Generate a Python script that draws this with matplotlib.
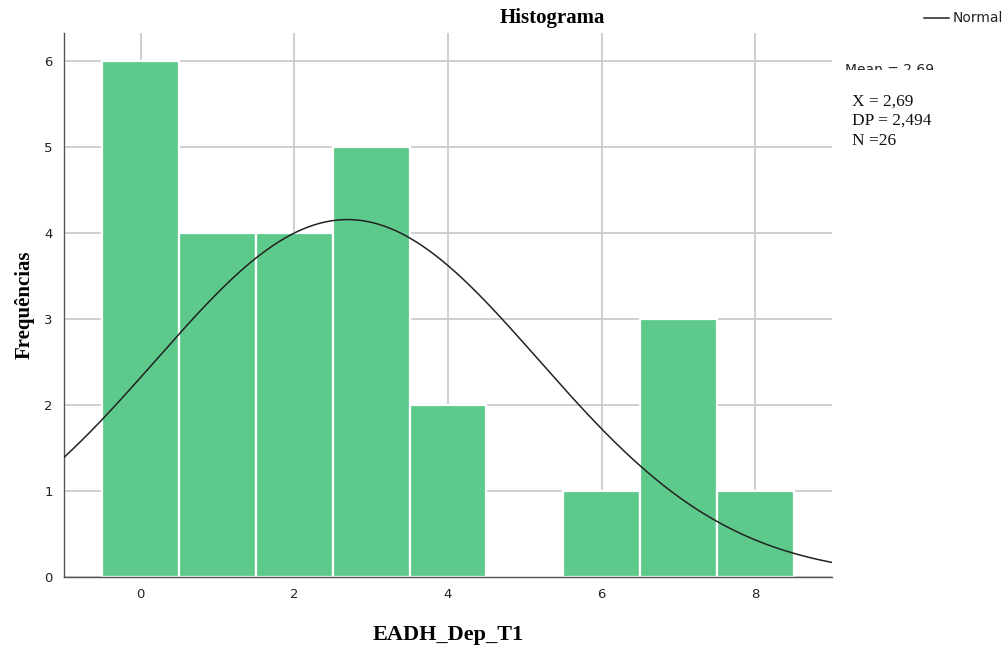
import numpy as np
import matplotlib
matplotlib.use("Agg")
import matplotlib.pyplot as plt
from matplotlib.patches import Rectangle

# Histogram bins (value -> frequency), EADH_Dep_T1, N = 26
BIN_CENTERS = [0, 1, 2, 3, 4, 5, 6, 7, 8]
FREQUENCIES = [6, 4, 4, 5, 2, 0, 1, 3, 1]
MEAN = 2.69
SD = 2.494
N = 26
XTICKS = [0, 2, 4, 6, 8]
YTICKS = [0, 1, 2, 3, 4, 5, 6]

BAR_COLOR = "#5dca8b"
GRID_COLOR = "#cccccc"
SERIF = ["Liberation Serif", "DejaVu Serif"]

fig = plt.figure(figsize=(10.08, 6.48), dpi=100)
ax = fig.add_axes([0.0635, 0.1096, 0.7619, 0.8395])

ax.bar(BIN_CENTERS, FREQUENCIES, width=1.0, color=BAR_COLOR,
       edgecolor="white", linewidth=1.6, zorder=2)

# fitted normal curve scaled to counts (bin width 1)
xs = np.linspace(-1, 9, 400)
ys = N * np.exp(-0.5 * ((xs - MEAN) / SD) ** 2) / (SD * np.sqrt(2 * np.pi))
ax.plot(xs, ys, color="#222222", linewidth=1.1, zorder=3, label="Normal")

ax.set_xlim(-1, 9)
ax.set_ylim(0, 6.33)
ax.set_xticks(XTICKS)
ax.set_yticks(YTICKS)
ax.tick_params(length=0, labelsize=9.5, colors="#222222", pad=8)
ax.grid(True, color=GRID_COLOR, linewidth=1.3, zorder=0)
ax.set_axisbelow(True)
for s in ("top", "right"):
    ax.spines[s].set_visible(False)
for s in ("left", "bottom"):
    ax.spines[s].set_color("#555555")
    ax.spines[s].set_linewidth(1.0)

ax.set_xlabel("EADH_Dep_T1", family=SERIF, fontweight="bold", fontsize=16, labelpad=17)
ax.set_ylabel("Frequências", family=SERIF, fontweight="bold", fontsize=15, labelpad=7)

fig.text(552 / 1008, 1 - 18 / 648, "Histograma", family=SERIF, fontweight="bold",
         fontsize=15, ha="center", va="center")

# legend
fig.lines.append(plt.Line2D([924 / 1008, 949 / 1008], [1 - 18 / 648] * 2,
                            transform=fig.transFigure, color="#222222", linewidth=1.1))
fig.text(953 / 1008, 1 - 18 / 648, "Normal", fontsize=10, ha="left", va="center",
         color="#222222")

# "Mean" label, lower part hidden as in the source image
fig.text(845 / 1008, 1 - 74 / 648, "Mean = 2,69", fontsize=10, ha="left",
         va="baseline", color="#222222")
fig.patches.append(Rectangle((838 / 1008, 1 - 82 / 648), 120 / 1008, 12 / 648,
                             transform=fig.transFigure, facecolor="white",
                             edgecolor="none", zorder=5))

fig.text(852 / 1008, 1 - 121 / 648, "X = 2,69\nDP = 2,494\nN =26", family=SERIF,
         fontsize=12.5, ha="left", va="center", linespacing=1.3, color="#111111",
         zorder=6)

fig.savefig("out.png", dpi=100)
